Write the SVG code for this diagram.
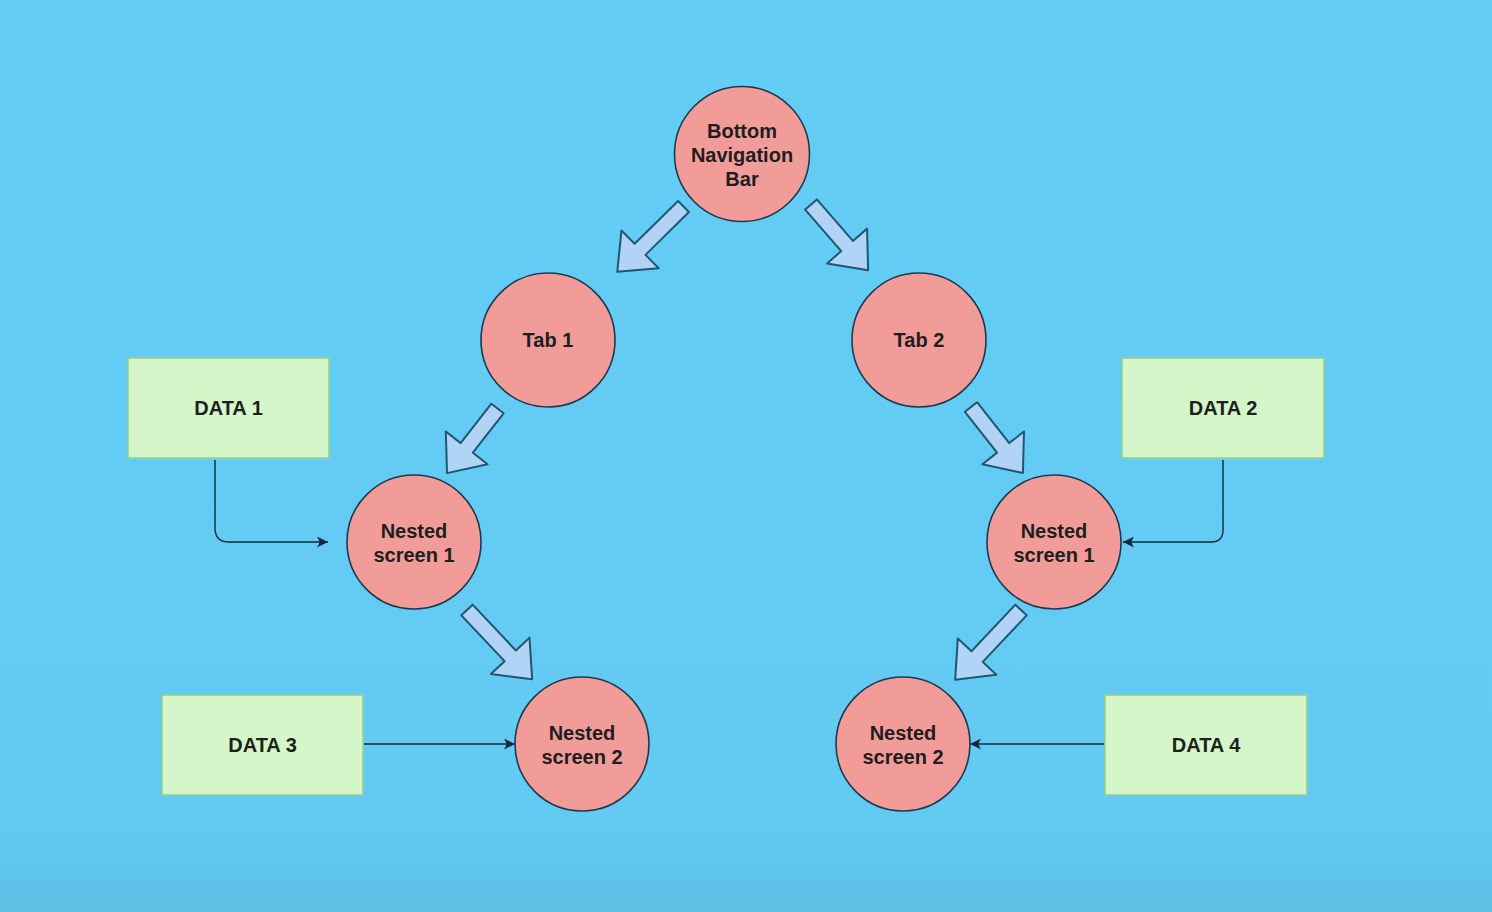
<svg xmlns="http://www.w3.org/2000/svg" width="1492" height="912" viewBox="0 0 1492 912">
  <defs>
    <linearGradient id="bg" x1="0" y1="0" x2="0" y2="1">
      <stop offset="0" stop-color="#64cdf5"/>
      <stop offset="0.88" stop-color="#63cbf3"/>
      <stop offset="1" stop-color="#5ec1e6"/>
    </linearGradient>
    <marker id="tri" viewBox="0 0 10 10" refX="10" refY="5" markerWidth="11" markerHeight="11" markerUnits="userSpaceOnUse" orient="auto">
      <path d="M0,0 L10,5 L0,10 L2.5,5 Z" fill="#14293a"/>
    </marker>
  </defs>
  <style>
    .circ { fill: #f19c99; stroke: #1d3a4c; stroke-width: 1.6; }
    .box { fill: #d5f6c8; stroke: #93d28c; stroke-width: 1.6; }
    .lbl { font-family: "Liberation Sans", Arial, sans-serif; font-weight: bold; font-size: 20px; fill: #1e1e1e; text-anchor: middle; }
    .big { fill: #b1d3f6; stroke: #1f5670; stroke-width: 2; stroke-linejoin: round; }
    .con { fill: none; stroke: #14293a; stroke-width: 1.4; }
  </style>
  <rect x="0" y="0" width="1492" height="912" fill="url(#bg)"/>

  <g id="connectors">
    <path class="big" transform="translate(683.5,206.5) rotate(135.4)" d="M0,-7.75 L61,-7.75 L61,-26.5 L93,0 L61,26.5 L61,7.75 L0,7.75 Z"/>
    <path class="big" transform="translate(811,204.5) rotate(49)" d="M0,-7.75 L55,-7.75 L55,-26.5 L87,0 L55,26.5 L55,7.75 L0,7.75 Z"/>
    <path class="big" transform="translate(497.5,408.5) rotate(128)" d="M0,-7.75 L50,-7.75 L50,-26.5 L82,0 L50,26.5 L50,7.75 L0,7.75 Z"/>
    <path class="big" transform="translate(971,407) rotate(51.8)" d="M0,-7.75 L52,-7.75 L52,-26.5 L84,0 L52,26.5 L52,7.75 L0,7.75 Z"/>
    <path class="big" transform="translate(467,610) rotate(46.7)" d="M0,-7.75 L63,-7.75 L63,-26.5 L95,0 L63,26.5 L63,7.75 L0,7.75 Z"/>
    <path class="big" transform="translate(1021,610) rotate(133.3)" d="M0,-7.75 L64,-7.75 L64,-26.5 L96,0 L64,26.5 L64,7.75 L0,7.75 Z"/>

    <path class="con" marker-end="url(#tri)" d="M215,460 L215,528 Q215,542 229,542 L328,542"/>
    <path class="con" marker-end="url(#tri)" d="M1223,460 L1223,530 Q1223,542 1211,542 L1123,542"/>
    <path class="con" marker-end="url(#tri)" d="M364,744 L515,744"/>
    <path class="con" marker-end="url(#tri)" d="M1105,744 L970,744"/>
  </g>

  <g id="bottom-nav">
    <circle class="circ" cx="742" cy="154" r="67.5"/>
    <text class="lbl" x="742" y="138">Bottom</text>
    <text class="lbl" x="742" y="162">Navigation</text>
    <text class="lbl" x="742" y="186">Bar</text>
  </g>
  <g id="tab1">
    <circle class="circ" cx="548" cy="340" r="67"/>
    <text class="lbl" x="548" y="347">Tab 1</text>
  </g>
  <g id="tab2">
    <circle class="circ" cx="919" cy="340" r="67"/>
    <text class="lbl" x="919" y="347">Tab 2</text>
  </g>
  <g id="nested1-left">
    <circle class="circ" cx="414" cy="542" r="67"/>
    <text class="lbl" x="414" y="538">Nested</text>
    <text class="lbl" x="414" y="562">screen 1</text>
  </g>
  <g id="nested2-left">
    <circle class="circ" cx="582" cy="744" r="67"/>
    <text class="lbl" x="582" y="740">Nested</text>
    <text class="lbl" x="582" y="764">screen 2</text>
  </g>
  <g id="nested1-right">
    <circle class="circ" cx="1054" cy="542" r="67"/>
    <text class="lbl" x="1054" y="538">Nested</text>
    <text class="lbl" x="1054" y="562">screen 1</text>
  </g>
  <g id="nested2-right">
    <circle class="circ" cx="903" cy="744" r="67"/>
    <text class="lbl" x="903" y="740">Nested</text>
    <text class="lbl" x="903" y="764">screen 2</text>
  </g>
  <g id="data1">
    <rect class="box" x="128" y="358" width="201" height="100"/>
    <text class="lbl" x="228.5" y="415">DATA 1</text>
  </g>
  <g id="data2">
    <rect class="box" x="1122" y="358" width="202" height="100"/>
    <text class="lbl" x="1223" y="415">DATA 2</text>
  </g>
  <g id="data3">
    <rect class="box" x="162" y="695" width="201" height="100"/>
    <text class="lbl" x="262.5" y="752">DATA 3</text>
  </g>
  <g id="data4">
    <rect class="box" x="1105" y="695" width="202" height="100"/>
    <text class="lbl" x="1206" y="752">DATA 4</text>
  </g>
</svg>
